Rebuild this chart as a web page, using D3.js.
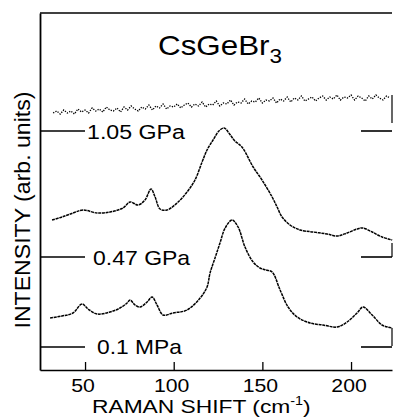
<!DOCTYPE html>
<html><head><meta charset="utf-8">
<script src="https://cdn.jsdelivr.net/npm/d3@7"></script>
<style>html,body{margin:0;padding:0;background:#fff;}svg{display:block;}</style>
</head><body>
<script>
// ---- data ----
const pressures = ["0.1 MPa", "0.47 GPa", "1.05 GPa"];
const baselines = [23, 113, 239];           // trace offsets (arb. units)
const xTicks = [50, 100, 150, 200];

const shift_01MPa = [30.3,37,43.2,48.3,51.7,56.8,64.1,69.7,73.7,75.4,78.2,81,85,87.8,90.6,94,99.6,107.5,114.9,118.8,120.5,123.3,126.1,129,132.9,136.3,140.2,144.8,148.7,152.1,155.5,160,164.5,169.6,176.9,184.2,192.1,197.8,203.4,206.8,211.9,217.5,223.2];
const int_01MPa   = [29,31,34,43,38,33,35,39,44,47,42,40,45,50,42,32,34,37,49,60,74,89,104,119,127,120,100,85,79,77,75,57,40,30,24,22,20,25,34,40,32,22,19];

const shift_047GPa = [31.4,37,43.2,48.9,56.8,64.1,71.4,75.4,79.9,83.8,87.2,89.5,92.3,96.2,101.9,107.5,112,116,118.8,122.2,125.5,128.4,131.5,134.5,138.5,144.8,149.8,155.5,158.3,161.1,165.6,171.3,178.6,186.5,192.1,197.8,203.4,206.8,211.9,217.5,223.2];
const int_047GPa   = [37,40,44,47,44,45,49,55,52,57,68,60,48,47,54,65,77,95,107,117,126,129,123,116,110,90,77,60,50,40,32,27,25,23,21,24,28,29,25,20,17];

const shift_105GPa = [32,34,36,38,40,42,44,46,48,50,52,54,56,58,60,62,64,66,68,70,72,74,76,78,80,82,84,86,88,90,92,94,96,98,100,102,104,106,108,110,112,114,116,118,120,122,124,126,128,130,132,134,136,138,140,142,144,146,148,150,152,154,156,158,160,162,164,166,168,170,172,174,176,178,180,182,184,186,188,190,192,194,196,198,200,202,204,206,208,210,212,214,216,218,220,222];
const int_105GPa   = [18,20,17,21,18,20,17,22,19,21,18,23,20,22,19,24,21,20,23,19,24,21,25,22,20,24,22,26,21,25,23,27,22,25,24,27,23,26,28,24,27,25,29,24,27,26,30,25,28,27,31,26,29,28,32,27,30,29,33,28,31,30,33,28,32,30,34,29,33,31,35,30,32,34,30,33,35,31,34,32,36,31,34,33,36,31,35,33,30,35,32,36,33,31,35,33];

// ---- chart ----
const W = 393, H = 420;
const svg = d3.select("body").append("svg").attr("width", W).attr("height", H);
const FONT = "'Liberation Sans', Arial, Helvetica, sans-serif";

const x = d3.scaleLinear().domain([24.6, 223.1]).range([40, 392]);
const y = d3.scaleLinear().domain([0, 357]).range([370, 13]);

function stxt(str, px, py, fs, sx, anchor, rot) {
  const t = svg.append("text")
    .attr("transform", `translate(${px},${py})` + (rot ? ` rotate(${rot})` : "") + ` scale(${sx},1)`)
    .attr("font-family", FONT).attr("font-size", fs).attr("fill", "#000")
    .attr("text-anchor", anchor || "start");
  t.text(str);
  return t;
}

// frame: top and left
svg.append("line").attr("x1", 40).attr("x2", 392).attr("y1", 13).attr("y2", 13)
  .attr("stroke", "#000").attr("stroke-width", 1.6);
svg.append("g").attr("transform", "translate(40,0)")
  .call(d3.axisLeft(y).ticks(0).tickSizeOuter(0))
  .call(g => g.select(".domain").attr("stroke-width", 1.8));

// right edge short segments
[[95,123],[243,257],[328,346]].forEach(s => {
  svg.append("line").attr("x1", 392).attr("x2", 392).attr("y1", s[0]).attr("y2", s[1])
    .attr("stroke", "#000").attr("stroke-width", 1.2);
});

// bottom axis
svg.append("g").attr("transform", "translate(0,370)")
  .call(d3.axisBottom(x).tickValues(xTicks).tickSizeInner(-8).tickSizeOuter(0).tickFormat(""))
  .call(g => g.select(".domain").attr("stroke-width", 1.6))
  .call(g => g.selectAll(".tick line").attr("stroke-width", 1.3));
xTicks.forEach(v => stxt(String(v), x(v) - 2, 392, 18, 1.18, "middle"));

// axis titles
const xl = svg.append("text").attr("transform", "translate(92,413) scale(1.2,1)")
  .attr("font-family", FONT).attr("font-size", 19).attr("fill", "#000");
xl.append("tspan").text("RAMAN SHIFT (cm");
xl.append("tspan").attr("dy", -8).attr("font-size", 12).text("-1");
xl.append("tspan").attr("dy", 8).text(")");

stxt("INTENSITY (arb. units)", 30, 210, 22, 1.05, "middle", -90);

// title
const tt = svg.append("text").attr("transform", "translate(158,55) scale(1.12,1)")
  .attr("font-family", FONT).attr("font-size", 28).attr("fill", "#000");
tt.append("tspan").text("CsGeBr");
tt.append("tspan").attr("dy", 8).attr("font-size", 20).text("3");

// baseline markers and labels
baselines.forEach((b, i) => {
  const yy = y(b);
  svg.append("line").attr("x1", 40).attr("x2", 85).attr("y1", yy).attr("y2", yy)
    .attr("stroke", "#000").attr("stroke-width", 1.3);
  svg.append("line").attr("x1", 361).attr("x2", 392).attr("y1", yy).attr("y2", yy)
    .attr("stroke", "#000").attr("stroke-width", 1.6);
});
stxt(pressures[0], 97, y(baselines[0]) + 7, 20, 1.14, "start");
stxt(pressures[1], 93, y(baselines[1]) + 8, 20, 1.15, "start");
stxt(pressures[2], 87, y(baselines[2]) + 8, 20, 1.16, "start");

// spectra
const series = [
  { xs: shift_01MPa, ys: int_01MPa, base: baselines[0], dash: "3,0.7", w: 1.5, noisy: false },
  { xs: shift_047GPa, ys: int_047GPa, base: baselines[1], dash: "3,0.7", w: 1.5, noisy: false },
  { xs: shift_105GPa, ys: int_105GPa, base: baselines[2], dash: "1.3,1.3", w: 1.3, noisy: true }
];
series.forEach(s => {
  const pts = s.xs.map((v, i) => [v, s.ys[i] + s.base]);
  const line = d3.line().x(d => x(d[0])).y(d => y(d[1]))
    .curve(s.noisy ? d3.curveLinear : d3.curveCatmullRom.alpha(0.5));
  svg.append("path").datum(pts).attr("d", line)
    .attr("fill", "none").attr("stroke", "#000")
    .attr("stroke-width", s.w).attr("stroke-dasharray", s.dash);
});
</script>
</body></html>
